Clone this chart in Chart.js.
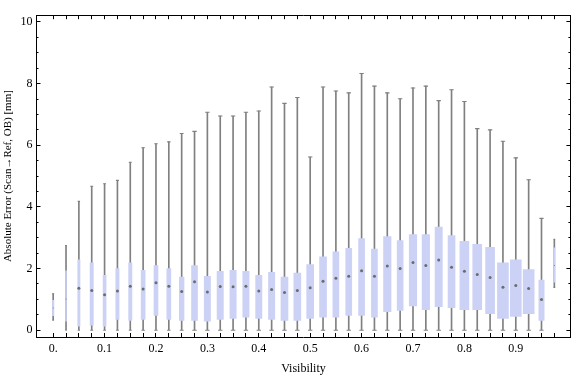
<!DOCTYPE html>
<html>
<head>
<meta charset="utf-8">
<script src="https://cdn.jsdelivr.net/npm/chart.js@4.4.1/dist/chart.umd.min.js"></script>
<style>
  html, body { margin: 0; padding: 0; background: #fff; }
  canvas { display: block; }
</style>
</head>
<body>
<canvas id="chart" width="576" height="377"></canvas>
<script>
// box positions (visibility bins)
const visibility = [0, 0.025, 0.05, 0.075, 0.1, 0.125, 0.15, 0.175, 0.2, 0.225,
  0.25, 0.275, 0.3, 0.325, 0.35, 0.375, 0.4, 0.425, 0.45, 0.475,
  0.5, 0.525, 0.55, 0.575, 0.6, 0.625, 0.65, 0.675, 0.7, 0.725,
  0.75, 0.775, 0.8, 0.825, 0.85, 0.875, 0.9, 0.925, 0.95, 0.975];

// absolute error [mm]
const whiskerLow = [0.33, 0, 0, 0, 0, 0, 0, 0, 0, 0,
  0, 0, 0, 0, 0, 0, 0, 0, 0, 0,
  0, 0, 0, 0, 0, 0, 0, 0, 0, 0,
  0, 0, 0, 0, 0, 0, 0, 0, 0, 1.39];
const boxLow = [0.47, 0.29, 0.13, 0.16, 0.13, 0.35, 0.32, 0.35, 0.48, 0.35,
  0.32, 0.32, 0.29, 0.35, 0.38, 0.42, 0.38, 0.35, 0.32, 0.32,
  0.38, 0.42, 0.42, 0.48, 0.48, 0.42, 0.6, 0.64, 0.79, 0.67,
  0.76, 0.73, 0.67, 0.67, 0.54, 0.38, 0.45, 0.54, 0.32, 1.56];
const medians = [0.72, 1.01, 1.36, 1.29, 1.15, 1.27, 1.43, 1.34, 1.54, 1.43,
  1.26, 1.57, 1.24, 1.42, 1.41, 1.43, 1.27, 1.32, 1.22, 1.29,
  1.38, 1.59, 1.69, 1.75, 1.93, 1.75, 2.08, 2.0, 2.2, 2.1,
  2.28, 2.04, 1.91, 1.81, 1.71, 1.39, 1.45, 1.35, 1.0, 2.1];
const boxHigh = [0.97, 1.93, 2.28, 2.19, 1.78, 2.0, 2.19, 1.94, 2.1, 2.0,
  1.72, 2.1, 1.75, 1.91, 1.94, 1.91, 1.78, 1.88, 1.72, 1.85,
  2.13, 2.38, 2.54, 2.66, 2.97, 2.63, 3.04, 2.91, 3.1, 3.1,
  3.35, 3.07, 2.88, 2.79, 2.69, 2.19, 2.28, 1.97, 1.63, 2.67];
const whiskerHigh = [1.18, 2.75, 4.18, 4.67, 4.75, 4.86, 5.45, 5.92, 6.05, 6.11,
  6.38, 6.45, 7.07, 6.95, 6.95, 7.07, 7.11, 7.89, 7.36, 7.55,
  5.62, 7.89, 7.76, 7.70, 8.33, 7.92, 7.70, 7.51, 7.86, 7.92,
  7.45, 7.80, 7.42, 6.54, 6.50, 6.13, 5.59, 4.88, 3.63, 2.95];

const xLabelValues = [0, 0.1, 0.2, 0.3, 0.4, 0.5, 0.6, 0.7, 0.8, 0.9];
const xLabelTexts = ['0.', '0.1', '0.2', '0.3', '0.4', '0.5', '0.6', '0.7', '0.8', '0.9'];
const yMajorTicks = [0, 2, 4, 6, 8, 10];
const yMinorTicks = [0, 0.5, 1, 1.5, 2, 2.5, 3, 3.5, 4, 4.5, 5, 5.5, 6, 6.5, 7, 7.5, 8, 8.5, 9, 9.5, 10];

// drawn box widths in px (style only)
const boxWidths = [1.5, 1, 2.3, 3.3, 3, 3.3, 3.3, 4, 4, 4,
  4.7, 6, 6.3, 6.3, 6.3, 6.3, 6.3, 6.3, 7, 7,
  7, 7, 6, 6, 6, 6, 7.5, 6, 7.5, 7.5,
  7.3, 7, 9, 9, 9, 11, 11, 11, 5.3, 1];

const xMin = -0.0334, xMax = 1.0072;
const yMin = -0.22, yMax = 10.22;

const boxColor = 'rgb(204,210,245)';
const whiskerColor = '#808080';
const medianColor = '#6c6c6c';
const serif = "'Liberation Serif', 'Times New Roman', serif";

const n = visibility.length;
const datasets = [];

datasets.push({
  type: 'bar',
  data: visibility.map((v, i) => ({x: v, y: [whiskerLow[i], whiskerHigh[i]]})),
  backgroundColor: whiskerColor,
  barThickness: 1,
  grouped: false,
  order: 3
});

visibility.forEach((v, i) => {
  datasets.push({
    type: 'bar',
    data: [{x: v, y: [boxLow[i], boxHigh[i]]}],
    backgroundColor: boxColor,
    barThickness: boxWidths[i],
    grouped: false,
    order: 2
  });
});

// whisker caps
datasets.push({
  type: 'scatter',
  data: visibility.map((v, i) => ({x: v, y: whiskerHigh[i]}))
    .concat(visibility.map((v, i) => ({x: v, y: whiskerLow[i]}))),
  pointStyle: 'line',
  radius: ctx => Math.min(2.2, 0.3 * boxWidths[ctx.dataIndex % n] + 0.5),
  borderColor: whiskerColor,
  borderWidth: 1.1,
  order: 3
});

// medians
datasets.push({
  type: 'scatter',
  data: visibility.map((v, i) => ({x: v, y: medians[i]})),
  pointStyle: 'circle',
  radius: ctx => boxWidths[ctx.dataIndex] < 2 ? 0.5 : 1.5,
  backgroundColor: medianColor,
  borderWidth: 0,
  order: 1
});

const setTicks = values => axis => { axis.ticks = values.map(v => ({value: v})); };

function xLabel(v) {
  const k = xLabelValues.findIndex(t => Math.abs(t - v) < 1e-9);
  return k < 0 ? '' : xLabelTexts[k];
}

const frame = {display: true, color: '#000', width: 1};
const noLabels = {display: false};

new Chart(document.getElementById('chart'), {
  type: 'bar',
  data: {datasets},
  options: {
    responsive: false,
    animation: false,
    events: [],
    layout: {padding: 0},
    plugins: {legend: {display: false}, tooltip: {enabled: false}},
    scales: {
      x: {
        type: 'linear', position: 'bottom', min: xMin, max: xMax, offset: false,
        afterBuildTicks: setTicks(visibility),
        afterFit: a => { a.height = 40; },
        grid: {drawOnChartArea: false, offset: false, color: '#000', tickLength: -4},
        border: frame,
        ticks: {autoSkip: false, maxRotation: 0, padding: 9, color: '#000',
          font: {family: serif, size: 12}, callback: v => xLabel(v)},
        title: {display: true, text: 'Visibility', color: '#000',
          font: {family: serif, size: 12}, padding: {top: 0, bottom: 1}}
      },
      xTop: {
        type: 'linear', position: 'top', min: xMin, max: xMax, offset: false,
        afterBuildTicks: setTicks(visibility),
        afterFit: a => { a.height = 4; },
        grid: {drawOnChartArea: false, offset: false, color: '#000', tickLength: -4},
        border: frame,
        ticks: noLabels
      },
      y: {
        type: 'linear', position: 'left', weight: 1, min: yMin, max: yMax,
        afterBuildTicks: setTicks(yMajorTicks),
        afterFit: a => { a.width = 36; },
        grid: {drawOnChartArea: false, color: '#000', tickLength: -4.5},
        border: frame,
        ticks: {padding: 8, color: '#000', font: {family: serif, size: 12}},
        title: {display: true, text: 'Absolute Error (Scan\u2192Ref, OB) [mm]', color: '#000',
          font: {family: serif, size: 11}, padding: {top: 1.5, bottom: 0}}
      },
      yMinor: {
        type: 'linear', position: 'left', weight: 0, min: yMin, max: yMax,
        afterBuildTicks: setTicks(yMinorTicks),
        afterFit: a => { a.width = 0; },
        grid: {drawOnChartArea: false, color: '#000', tickLength: -2.5},
        border: {display: false},
        ticks: noLabels
      },
      yRight: {
        type: 'linear', position: 'right', weight: 1, min: yMin, max: yMax,
        afterBuildTicks: setTicks(yMajorTicks),
        afterFit: a => { a.width = 1; },
        grid: {drawOnChartArea: false, color: '#000', tickLength: -4.5},
        border: frame,
        ticks: noLabels
      },
      yRightMinor: {
        type: 'linear', position: 'right', weight: 0, min: yMin, max: yMax,
        afterBuildTicks: setTicks(yMinorTicks),
        afterFit: a => { a.width = 0; },
        grid: {drawOnChartArea: false, color: '#000', tickLength: -2.5},
        border: {display: false},
        ticks: noLabels
      }
    }
  }
});
</script>
</body>
</html>
